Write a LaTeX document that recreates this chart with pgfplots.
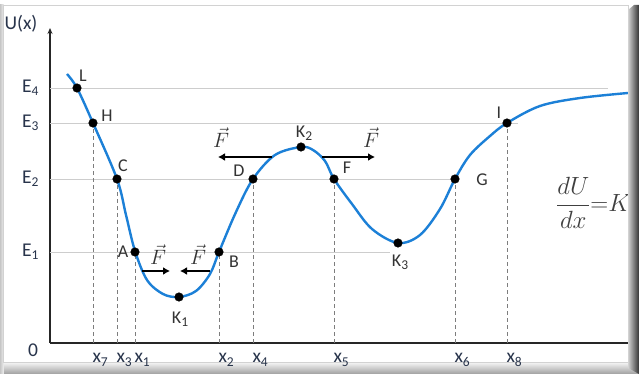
\documentclass[border=0pt]{standalone}
\usepackage{pgfplots}
\pgfplotsset{compat=1.18}
\usepackage{fontspec}
\setmainfont{Carlito}
\usetikzlibrary{arrows.meta}
\definecolor{curve}{RGB}{28,128,215}
\definecolor{lab}{RGB}{40,52,75}
\definecolor{hline}{RGB}{205,205,205}
\definecolor{dashc}{RGB}{125,125,125}
\newcommand{\sub}[1]{\raisebox{-0.35ex}{\fontsize{13.5}{14}\selectfont #1}}
\tikzset{lbl/.style={font=\fontsize{18}{21}\selectfont, text=black!80},
  fv/.style={anchor=base, font=\fontsize{22}{26}\selectfont, text=black!80}}
\begin{document}
\begin{tikzpicture}[x=1pt,y=1pt]
\fill[white] (-50,-31) rectangle (589,343);
\shade[top color=white, bottom color=gray!75] (-50,-31) rectangle (589,-18);
\shade[left color=gray!45, right color=gray!10] (-50,-31) rectangle (-46,338);
\draw[gray!35, line width=0.8pt, fill=white] (-47,-19) rectangle (578,338);
\begin{axis}[
  at={(0,0)}, anchor=south west,
  x=1pt, y=1pt,
  xmin=0, xmax=589, ymin=0, ymax=315,
  axis lines=left,
  axis line style={line width=1.6pt, black!85},
  x axis line style={-},
  y axis line style={-{Stealth[length=6pt,width=5pt]}},
  major tick length=0,
  clip=false,
  xtick={43,67,85,169,203,284,405,457},
  xticklabels={x\sub{7},x\sub{3},x\sub{1},x\sub{2},x\sub{4},x\sub{5},x\sub{6},x\sub{8}},
  ytick={91,164,220,255},
  yticklabels={E\sub{1},E\sub{2},E\sub{3},E\sub{4}},
  ticklabel style={font=\fontsize{19.5}{22}\selectfont, text=lab},
  xticklabel style={anchor=north west, xshift=-4pt, yshift=-7pt},
  yticklabel style={xshift=-8pt},
]
% energy levels
\addplot[hline, line width=0.9pt] coordinates {(0,255) (558,255)};
\addplot[hline, line width=0.9pt] coordinates {(0,220) (468,220)};
\addplot[hline, line width=0.9pt] coordinates {(0,164) (405,164)};
\addplot[hline, line width=0.9pt] coordinates {(0,91) (340,91)};
% dashed drops
\addplot[ycomb, dashc, line width=0.9pt, dash pattern=on 4pt off 3pt] coordinates {
(43,220) (67,164) (85,91) (169,91) (203,164) (284,164) (405,164) (457,220)};
% potential curve
\addplot[curve, line width=2.4pt, smooth, tension=0.55] coordinates {
(17,269)(27,255)(43,220)(67,164)(76,128)(85,92)(97,63)(113,49)(129,46)(146,52)(160,69)(169,91)(186,131)(203,164)(225,188)(251,196)(263,193)(275,182)(284,164)(302,139)(322,114)(348,100)(370,108)(390,134)(405,164)(420,188)(440,207)(457,220)(490,237)(530,245)(578,250)};
% points
\addplot[only marks, mark=*, mark size=4.3pt, black] coordinates {
(27,255)(43,220)(67,164)(85,91)(129,46)(169,91)(203,164)(251,196)(284,164)(348,100)(405,164)(457,220)};
% force arrows
\addplot[black, line width=1.8pt, -{Latex[length=7pt,width=8pt]}] coordinates {(92,72)(120,72)};
\addplot[black, line width=1.8pt, -{Latex[length=7pt,width=8pt]}] coordinates {(160,72)(130,72)};
\addplot[black, line width=1.8pt, -{Latex[length=7pt,width=8pt]}] coordinates {(222,186)(168,186)};
\addplot[black, line width=1.8pt, -{Latex[length=7pt,width=8pt]}] coordinates {(272,186)(325,186)};
% labels
\node[lbl] at (axis cs:33,267) {L};
\node[lbl] at (axis cs:57,227) {H};
\node[lbl] at (axis cs:73,177) {C};
\node[lbl] at (axis cs:73,91) {A};
\node[lbl] at (axis cs:130,24) {K\sub{1}};
\node[lbl] at (axis cs:184,81) {B};
\node[lbl] at (axis cs:189,172) {D};
\node[lbl] at (axis cs:254,210) {K\sub{2}};
\node[lbl] at (axis cs:297,175) {F};
\node[lbl] at (axis cs:350,81) {K\sub{3}};
\node[lbl] at (axis cs:432,163) {G};
\node[lbl] at (axis cs:449,230) {I};
\node[font=\fontsize{19.5}{22}\selectfont, text=lab] at (axis cs:-29,319) {U(x)};
\node[font=\fontsize{19.5}{22}\selectfont, text=lab] at (axis cs:-17,-7) {0};
\node[fv] at (axis cs:108,78) {$\vec{F}$};
\node[fv] at (axis cs:148,78) {$\vec{F}$};
\node[fv] at (axis cs:171,195) {$\vec{F}$};
\node[fv] at (axis cs:321,195) {$\vec{F}$};
\node[anchor=west, inner sep=0pt, font=\fontsize{24}{28}\selectfont, text=black!75] at (axis cs:506,140) {$\displaystyle\frac{dU}{dx}{=}K$};
\coordinate (BL) at (axis cs:-50,-31);
\coordinate (TR) at (axis cs:589,343);
\end{axis}
\shade[left color=gray!35, right color=black!80] (578,-25) -- (578,333) -- (584,338) -- (589,338) -- (589,-31) -- cycle;
\pgfresetboundingbox
\path[use as bounding box] (BL) rectangle (TR);
\end{tikzpicture}
\end{document}
